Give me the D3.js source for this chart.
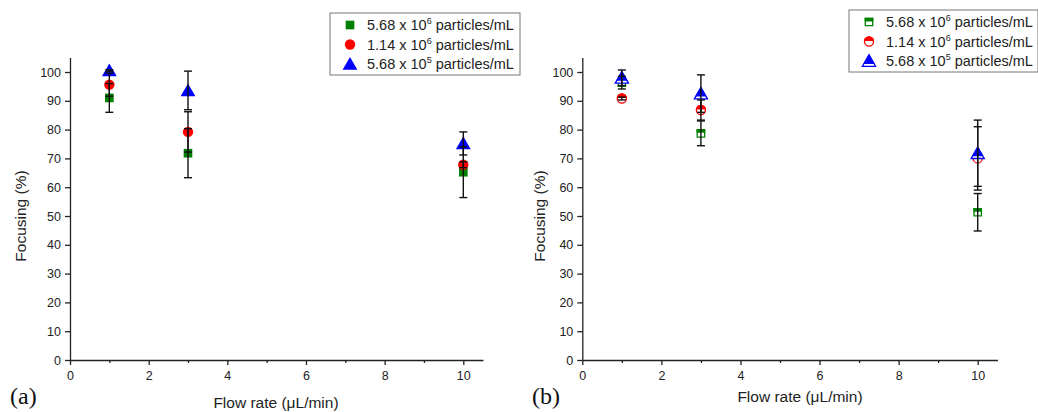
<!DOCTYPE html>
<html>
<head>
<meta charset="utf-8">
<script src="https://cdn.jsdelivr.net/npm/d3@7"></script>
<style>
  body { margin: 0; background: #fff; }
  svg { font-family: "Liberation Sans", Arial, sans-serif; }
  .axis path, .axis line { stroke: #222; stroke-width: 1.3; }
  .axis text { font-size: 12.5px; fill: #222; }
</style>
</head>
<body>
<svg width="1038" height="412"></svg>
<script>
var flowRates = [1, 3, 10];
var seriesNames = ["5.68 x 10|6| particles/mL", "1.14 x 10|6| particles/mL", "5.68 x 10|5| particles/mL"];
var seriesColors = ["#008000", "#ff0000", "#0000ff"];
var seriesShapes = ["square", "circle", "triangle"];

// panel (a)
var aSquare = [91.0, 71.8, 65.2], aSquareErr = [5.0, 8.5, 8.8];
var aCircle = [95.6, 79.2, 67.8], aCircleErr = [4.0, 7.0, 1.0];
var aTriangle = [100.5, 93.6, 75.2], aTriangleErr = [0.3, 6.7, 4.0];

// panel (b)
var bSquare = [96.3, 78.7, 51.3], bSquareErr = [2.2, 4.3, 6.5];
var bCircle = [90.8, 86.8, 70.0], bCircleErr = [0.5, 3.5, 11.0];
var bTriangle = [98.0, 92.5, 71.8], bTriangleErr = [2.7, 6.5, 11.5];

var xTicks = [0, 2, 4, 6, 8, 10];
var xMinor = [1, 3, 5, 7, 9];
var yTicks = [0, 10, 20, 30, 40, 50, 60, 70, 80, 90, 100];

var svg = d3.select("svg");
var clipCount = 0;

function symbolPath(shape, size) {
	var t = shape == "square" ? d3.symbolSquare : shape == "circle" ? d3.symbolCircle : d3.symbolTriangle;
	return d3.symbol().type(t).size(size)();
}

function drawMarker(g, shape, color, half, cx, cy) {
	var size = shape == "triangle" ? 95 : shape == "circle" ? 85 : 75;
	var dy = shape == "triangle" ? 1.5 : 0;
	var m = g.append("g").attr("transform", "translate(" + cx + "," + (cy + dy) + ")");
	if (!half) {
		m.append("path").attr("d", symbolPath(shape, size)).attr("fill", color);
		return;
	}
	var id = "clip" + (clipCount++);
	var cut = shape == "triangle" ? 1.5 : -0.5;
	m.append("clipPath").attr("id", id)
		.append("rect").attr("x", -10).attr("y", -10).attr("width", 20).attr("height", 10 + cut);
	m.append("path").attr("d", symbolPath(shape, size)).attr("fill", "#fff");
	m.append("path").attr("d", symbolPath(shape, size)).attr("fill", color).attr("clip-path", "url(#" + id + ")");
	m.append("path").attr("d", symbolPath(shape, size - 20)).attr("fill", "none")
		.attr("stroke", color).attr("stroke-width", 1.3);
}

function drawPanel(x0, x10, series, errs, half, legendX, legendY, legendW, label, labelX, titleX, titleY, yTitleX) {
	var xScale = d3.scaleLinear().domain([0, 10.5]).range([x0, x0 + (x10 - x0) * 1.05]);
	var yScale = d3.scaleLinear().domain([0, 105]).range([360, 360 - 288 * 1.05]);

	var g = svg.append("g");

	g.append("g").attr("class", "axis")
		.attr("transform", "translate(0,360)")
		.call(d3.axisBottom(xScale).tickValues(xTicks).tickSize(5).tickSizeOuter(0).tickPadding(4))
		.call(function (a) { a.selectAll("text").attr("dy", "0.9em"); });
	g.append("g").attr("class", "axis")
		.attr("transform", "translate(0,360)")
		.call(d3.axisBottom(xScale).tickValues(xMinor).tickSize(3).tickSizeOuter(0).tickFormat(""))
		.select(".domain").remove();

	g.append("g").attr("class", "axis")
		.attr("transform", "translate(" + x0 + ",0)")
		.call(d3.axisLeft(yScale).tickValues(yTicks).tickSize(5).tickSizeOuter(0).tickPadding(4));

	// points
	series.forEach(function (vals, s) {
		vals.forEach(function (v, i) {
			drawMarker(g, seriesShapes[s], seriesColors[s], half, xScale(flowRates[i]), yScale(v));
		});
	});

	// error bars on top
	series.forEach(function (vals, s) {
		vals.forEach(function (v, i) {
			var cx = xScale(flowRates[i]), e = errs[s][i];
			var top = yScale(v + e), bot = yScale(v - e);
			g.append("line").attr("x1", cx).attr("x2", cx).attr("y1", top).attr("y2", bot)
				.attr("stroke", "#111").attr("stroke-width", 1.4);
			[top, bot].forEach(function (y) {
				g.append("line").attr("x1", cx - 4).attr("x2", cx + 4).attr("y1", y).attr("y2", y)
					.attr("stroke", "#111").attr("stroke-width", 1.4);
			});
		});
	});

	// legend
	var lg = g.append("g").attr("transform", "translate(" + legendX + "," + legendY + ")");
	lg.append("rect").attr("width", legendW).attr("height", 62)
		.attr("fill", "#fff").attr("stroke", "#777").attr("stroke-width", 1);
	seriesNames.forEach(function (name, s) {
		var y = 12 + s * 19.5;
		drawMarker(lg, seriesShapes[s], seriesColors[s], half, 20, y);
		var parts = name.split("|");
		var t = lg.append("text").attr("x", 37).attr("y", y + 5)
			.attr("font-size", "14.5px").attr("fill", "#222");
		t.append("tspan").text(parts[0]);
		t.append("tspan").text(parts[1]).attr("font-size", "9px").attr("dy", "-6");
		t.append("tspan").text(parts[2]).attr("dy", "6");
	});

	g.append("text").attr("x", titleX).attr("y", titleY).attr("text-anchor", "middle")
		.attr("font-size", "15.5px").attr("fill", "#222").text("Flow rate (\u03bcL/min)");
	g.append("text").attr("transform", "translate(" + yTitleX + ",216) rotate(-90)")
		.attr("text-anchor", "middle").attr("font-size", "15.5px").attr("fill", "#222")
		.text("Focusing (%)");
	g.append("text").attr("x", labelX).attr("y", 404)
		.attr("font-family", "Liberation Serif, Times New Roman, serif")
		.attr("font-size", "24px").attr("fill", "#111").text(label);
}

drawPanel(70, 463.3, [aSquare, aCircle, aTriangle], [aSquareErr, aCircleErr, aTriangleErr], false,
	330, 13, 190, "(a)", 10, 276, 408, 26);
drawPanel(582.3, 977.7, [bSquare, bCircle, bTriangle], [bSquareErr, bCircleErr, bTriangleErr], true,
	849, 10, 189, "(b)", 532, 800, 402, 545);
</script>
</body>
</html>
